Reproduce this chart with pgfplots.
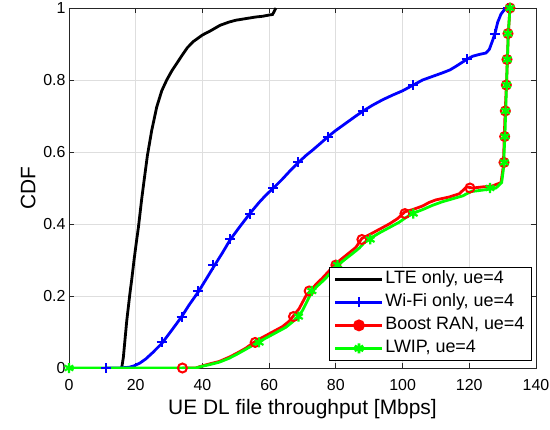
\documentclass[border=0pt]{standalone}
\usepackage{fontspec}
\setmainfont{Liberation Sans}
\usepackage{pgfplots}
\pgfplotsset{compat=1.18}
\usetikzlibrary{calc}
\definecolor{mlGrid}{gray}{0.87}
\definecolor{mlAxis}{gray}{0.15}

\begin{document}
\begin{tikzpicture}
\begin{axis}[
  name=ax,
  scale only axis, width=467bp, height=360bp,
  xmin=0, xmax=140, ymin=0, ymax=1,
  xtick={0,20,...,140},
  ytick={0,0.2,0.4,0.6,0.8,1},
  yticklabels={0,0.2,0.4,0.6,0.8,1},
  grid=major, grid style={mlGrid, line width=0.8bp},
  axis line style={mlAxis, line width=0.8bp},
  tick style={mlAxis, line width=0.8bp},
  major tick length=5bp,
  tick align=inside,
  /pgf/number format/assume math mode=true,
  ticklabel style={font=\fontsize{16}{18}\selectfont, text=black},
  xticklabel style={yshift=-8bp},
  xlabel={UE DL file throughput [Mbps]},
  ylabel={CDF},
  label style={font=\fontsize{21}{24}\selectfont},
  xlabel style={at={(axis description cs:0.5,0)}, anchor=north, yshift=-28bp},
  ylabel style={xshift=0bp, yshift=1bp},
  legend style={at={(0.99,0.02)}, anchor=south east, draw=black,
    font=\fontsize{18}{20}\selectfont, fill=white, line width=0.8bp,
    row sep=3bp, inner xsep=5bp, inner ysep=2bp,
    nodes={inner sep=1.5bp, text height=13bp, text depth=4bp}},
  legend cell align=left,
  legend image code/.code={
    \draw[mark repeat=2, mark phase=2] plot coordinates {(0bp,0bp) (23.5bp,0bp) (47bp,0bp)};
  },
]
% LTE only
\addplot[black, line width=2.8bp, forget plot] coordinates {
(15.8,0)(16.3,0.03)(16.8,0.08)(17.3,0.13)(17.8,0.17)(18.3,0.21)(18.8,0.245)
(19.5,0.30)(20.2,0.35)(20.8,0.39)(21.3,0.43)(21.8,0.47)(22.5,0.52)(23.5,0.59)
(24.8,0.66)(26.3,0.725)(27.8,0.77)(29.3,0.80)(30.8,0.825)(32.3,0.846)(34,0.87)
(35.5,0.89)(37.3,0.907)(40,0.925)(42.3,0.936)(45.3,0.952)(48,0.961)(50,0.966)
(53.3,0.971)(56,0.975)(58,0.977)(60.3,0.981)(61,0.982)(61.5,0.99)(62,1)};
% Wi-Fi only
\addplot[blue, line width=2.8bp, forget plot] coordinates {
(11,0)(15,0)(18,0.002)(19.5,0.006)(21.3,0.014)(23,0.025)(25,0.042)(27.8,0.068)
(30,0.095)(32,0.12)(33.8,0.143)(36,0.175)(38.8,0.212)(41,0.245)(43.3,0.28)
(46,0.32)(48.3,0.356)(51,0.39)(54.3,0.43)(57,0.46)(59,0.48)(61.3,0.50)(64,0.525)
(66.5,0.55)(68.8,0.571)(71,0.59)(73,0.605)(75.5,0.625)(77.7,0.643)(80,0.66)
(83,0.68)(86,0.70)(88.2,0.714)(91,0.73)(94,0.745)(97,0.758)(100,0.77)(103.2,0.786)
(106,0.80)(109,0.81)(112,0.82)(114.2,0.828)(116,0.838)(119.2,0.857)(121,0.866)
(123,0.871)(125,0.875)(126,0.885)(127,0.91)(127.7,0.929)(128.5,0.96)(129.5,0.983)
(130.5,0.995)(131.7,1.0)(133,1.0)};
\addplot[blue, only marks, mark=+, mark size=5bp, line width=2bp, forget plot] coordinates {
(11,0)(27.8,0.071)(33.8,0.143)(38.8,0.214)(43.3,0.286)(48.3,0.357)(54.3,0.429)
(61.3,0.5)(68.8,0.571)(77.7,0.643)(88.2,0.714)(103.2,0.786)(119.2,0.857)
(127.7,0.929)(131.7,1.0)};
% Boost RAN
\addplot[red, line width=2.8bp, forget plot] coordinates {
(34,0)(38,0)(40,0.006)(42,0.011)(45,0.018)(48,0.03)(50.3,0.041)(53,0.055)(56,0.075)
(59,0.09)(62,0.105)(64,0.115)(66,0.13)(67.3,0.145)(69,0.165)(71,0.20)(72.5,0.215)
(74,0.232)(76,0.25)(78,0.27)(80,0.29)(82,0.305)(84,0.32)(86,0.335)(87.8,0.36)
(90,0.37)(93,0.385)(96,0.40)(98.5,0.415)(100.7,0.434)(103,0.44)(106,0.45)(108,0.46)
(110,0.467)(114,0.475)(117,0.484)(119.2,0.503)(121,0.50)(124,0.503)(127,0.506)
(129.5,0.515)(130.2,0.56)(130.7,0.7)(131.2,0.8)(131.7,0.93)(132.2,1)};
\addplot[red, only marks, mark=o, mark size=4.5bp, line width=2bp, forget plot] coordinates {
(34,0)(55.8,0.071)(67.3,0.143)(72,0.214)(80,0.286)(87.8,0.357)(100.7,0.429)
(120.2,0.5)(130.4,0.571)(130.6,0.643)(130.8,0.714)(131.1,0.786)(131.3,0.857)
(131.6,0.929)(132.2,1)};
% LWIP
\addplot[green, line width=2.8bp, forget plot] coordinates {
(0,0)(38,0)(40,0.005)(42,0.009)(45,0.016)(48,0.027)(50.3,0.038)(53,0.052)(57,0.073)
(60,0.088)(63,0.103)(65,0.113)(67,0.128)(68.8,0.143)(70,0.16)(72.8,0.212)
(74.5,0.228)(76.5,0.245)(78.5,0.265)(80.5,0.285)(82.5,0.3)(85,0.318)(87,0.333)
(88.5,0.348)(90.3,0.36)(93,0.375)(96,0.39)(99,0.405)(101,0.418)(103.2,0.43)
(106,0.44)(109,0.452)(112,0.462)(115,0.47)(118,0.478)(120.5,0.49)(123,0.493)
(126.2,0.497)(128,0.50)(129.7,0.515)(130.2,0.55)(130.7,0.65)(131.2,0.8)
(131.7,0.93)(132.2,1)};
\addplot[green, only marks, mark=asterisk, mark size=5bp, line width=2.2bp, forget plot] coordinates {
(0,0)(57,0.071)(68.8,0.143)(72.8,0.214)(80.5,0.286)(90.3,0.357)(103.2,0.429)
(126.2,0.5)(130.5,0.571)(130.7,0.643)(130.9,0.714)(131.2,0.786)(131.4,0.857)
(131.6,0.929)(132.2,1)};
% legend
\addlegendimage{black, line width=2.8bp}
\addlegendentry{LTE only, ue=4}
\addlegendimage{blue, line width=2.8bp, mark=+, mark size=5bp, mark options={line width=2bp}}
\addlegendentry{Wi-Fi only, ue=4}
\addlegendimage{red, line width=2.8bp, mark=*, mark size=4.5bp}
\addlegendentry{Boost RAN, ue=4}
\addlegendimage{green, line width=2.8bp, mark=asterisk, mark size=5bp}
\addlegendentry{LWIP, ue=4}
\end{axis}
\pgfresetboundingbox
\path[use as bounding box] ($(ax.south west)+(-69bp,-62bp)$) rectangle ($(ax.north east)+(14bp,8bp)$);
\end{tikzpicture}
\end{document}
